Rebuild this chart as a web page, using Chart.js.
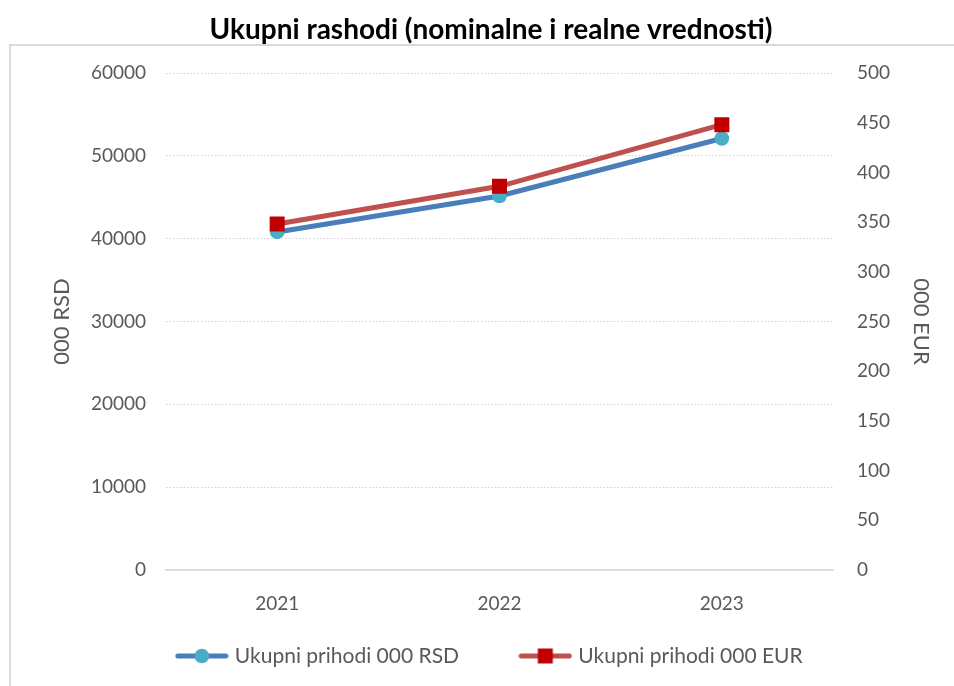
<!DOCTYPE html>
<html>
<head>
<meta charset="utf-8">
<script src="https://cdn.jsdelivr.net/npm/chart.js@4.4.1/dist/chart.umd.min.js"></script>
<style>
  html, body { margin: 0; padding: 0; background: #fff; overflow: hidden; }
  #wrap { position: relative; width: 954px; height: 686px; }
  #frame { position: absolute; left: 9px; top: 44px; width: 1000px; height: 700px; border: 2px solid #d9d9d9; box-sizing: border-box; }
  #chart { position: absolute; left: 0; top: 0; }
</style>
</head>
<body>
<div id="wrap">
  <div id="frame"></div>
  <canvas id="chart" width="954" height="686"></canvas>
</div>
<script>
const years = ["2021", "2022", "2023"];
const rsdValues = [40810, 45150, 52090];
const eurValues = [348, 386, 448];
const rsdLabel = "Ukupni prihodi 000 RSD";
const eurLabel = "Ukupni prihodi 000 EUR";

const FONT = "Lato, 'Open Sans', sans-serif";
const GREY = "#595959";

// legend swatch: line with the marker in the middle
function swatch(lineColor, pointColor, square) {
    const c = document.createElement("canvas");
    c.width = 54;
    c.height = 16;
    const ctx = c.getContext("2d");
    ctx.strokeStyle = lineColor;
    ctx.lineWidth = 5;
    ctx.lineCap = "round";
    ctx.beginPath();
    ctx.moveTo(3, 8);
    ctx.lineTo(51, 8);
    ctx.stroke();
    ctx.fillStyle = pointColor;
    ctx.beginPath();
    if (square) ctx.rect(19.5, 0.5, 15, 15);
    else ctx.arc(27, 8, 7.3, 0, Math.PI * 2);
    ctx.fill();
    return c;
}

const rsdSwatch = swatch("#4a7ebb", "#4bacc6", false);
const eurSwatch = swatch("#c0504d", "#c00000", true);

// trailing spaces on the first item give the gap between the two entries
const gap = "          ";

new Chart(document.getElementById("chart"), {
    type: "line",
    data: {
        labels: years,
        datasets: [
            {
                label: rsdLabel,
                data: rsdValues,
                yAxisID: "y",
                borderColor: "#4a7ebb",
                borderWidth: 5,
                pointStyle: "circle",
                pointRadius: 7.3,
                pointBorderWidth: 0,
                pointBackgroundColor: "#4bacc6",
                pointBorderColor: "#4bacc6",
                order: 1,
            },
            {
                label: eurLabel,
                data: eurValues,
                yAxisID: "y1",
                borderColor: "#c0504d",
                borderWidth: 5,
                pointStyle: "rect",
                pointRadius: 10.6,
                pointBorderWidth: 0,
                pointBackgroundColor: "#c00000",
                pointBorderColor: "#c00000",
                order: 0,
            },
        ],
    },
    options: {
        responsive: false,
        animation: false,
        layout: { padding: { left: 28, right: 0, top: 0, bottom: 9.5 } },
        plugins: {
            tooltip: { enabled: false },
            title: {
                display: true,
                text: "Ukupni rashodi (nominalne i realne vrednosti)",
                color: "#000",
                font: { family: FONT, size: 28, weight: "bold" },
                padding: { top: 13, bottom: 26.4 },
            },
            legend: {
                position: "bottom",
                labels: {
                    color: GREY,
                    font: { family: FONT, size: 21 },
                    usePointStyle: true,
                    pointStyleWidth: 45,
                    padding: 10,
                    generateLabels: (chart) => [
                        { text: rsdLabel + gap, pointStyle: rsdSwatch, datasetIndex: 0, fontColor: GREY, lineWidth: 0, strokeStyle: "transparent", fillStyle: "transparent" },
                        { text: eurLabel, pointStyle: eurSwatch, datasetIndex: 1, fontColor: GREY, lineWidth: 0, strokeStyle: "transparent", fillStyle: "transparent" },
                    ],
                },
            },
        },
        scales: {
            x: {
                offset: true,
                grid: { display: true, drawOnChartArea: false, drawTicks: false },
                border: { display: true, color: "#d9d9d9", width: 1.5 },
                ticks: { color: GREY, font: { family: FONT, size: 19 }, padding: 22 },
                afterFit: (s) => { s.height = 65.5; },
            },
            y: {
                position: "left",
                min: 0,
                max: 60000,
                ticks: { stepSize: 10000, color: GREY, font: { family: FONT, size: 19 }, padding: 20, callback: (v) => String(v) },
                grid: { color: "#d0d0d0", lineWidth: 1, drawTicks: false },
                border: { display: false, dash: [1.5, 2] },
                title: { display: true, text: "000 RSD", color: GREY, font: { family: FONT, size: 22 }, padding: { top: 21, bottom: 0 } },
                afterFit: (s) => { s.width = 138; },
            },
            y1: {
                position: "right",
                min: 0,
                max: 500,
                ticks: { stepSize: 50, color: GREY, font: { family: FONT, size: 19 }, padding: 24, callback: (v) => String(v) },
                grid: { display: false, drawTicks: false },
                border: { display: false },
                title: { display: true, text: "000 EUR", color: GREY, font: { family: FONT, size: 22 }, padding: { top: 20, bottom: 0 } },
                afterFit: (s) => { s.width = 121; },
            },
        },
    },
});
</script>
</body>
</html>
